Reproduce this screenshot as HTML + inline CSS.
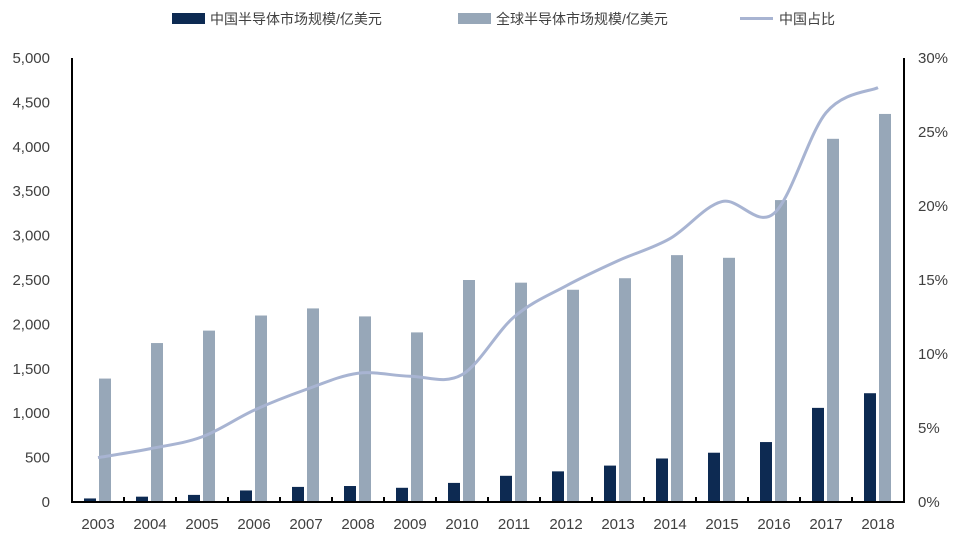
<!DOCTYPE html>
<html><head><meta charset="utf-8"><style>
body{margin:0;background:#fff;}
svg text{font-family:"Liberation Sans","Noto Sans CJK SC",sans-serif;fill:#404040;}
</style></head><body>
<svg width="957" height="543" xmlns="http://www.w3.org/2000/svg">
<g id="legend">
<g><rect x="172" y="13" width="33" height="11" fill="#0d2a52"/><text x="210" y="24" font-size="14">中国半导体市场规模/亿美元</text></g>
<g><rect x="458" y="13" width="33" height="11" fill="#97a7b8"/><text x="496" y="24" font-size="14">全球半导体市场规模/亿美元</text></g>
<g><line x1="740" y1="18.5" x2="773" y2="18.5" stroke="#a8b4d2" stroke-width="3"/><text x="779" y="24" font-size="14">中国占比</text></g>
</g>
<g id="plot"></g>
</svg>
<script>
const categories=["2003","2004","2005","2006","2007","2008","2009","2010","2011","2012","2013","2014","2015","2016","2017","2018"];
const chinaValues=[40,60,80,130,170,180,160,215,295,345,410,490,555,675,1060,1225];
const globalValues=[1390,1790,1930,2100,2180,2090,1910,2500,2470,2390,2520,2780,2750,3400,4090,4370];
const ratioValues=[3.0,3.6,4.4,6.2,7.6,8.7,8.5,8.6,12.5,14.6,16.3,17.8,20.3,19.5,26.3,28.0];
const leftTicks=[0,500,1000,1500,2000,2500,3000,3500,4000,4500,5000];
const rightTicks=[0,5,10,15,20,25,30];
const NS="http://www.w3.org/2000/svg";
const g=document.getElementById('plot');
const X0=72,X1=904,Y0=502,Y1=58;
const step=(X1-X0)/categories.length;
const xc=i=>X0+step*(i+0.5);
const yL=v=>Y0-(v/5000)*(Y0-Y1);
const yR=v=>Y0-(v/30)*(Y0-Y1);
function mk(t,a){const e=document.createElementNS(NS,t);for(const k in a)e.setAttribute(k,a[k]);g.appendChild(e);return e;}
leftTicks.forEach(v=>{const t=mk('text',{x:50,y:yL(v)+5,'font-size':15,'text-anchor':'end'});t.textContent=v.toLocaleString('en-US');

});
rightTicks.forEach(v=>{const t=mk('text',{x:918,y:yR(v)+5,'font-size':15});t.textContent=v+'%';

});
categories.forEach((c,i)=>{
const b1=mk('rect',{x:xc(i)-14,y:yL(chinaValues[i]),width:12,height:Y0-yL(chinaValues[i]),fill:'#0d2a52'});


const b2=mk('rect',{x:xc(i)+1,y:yL(globalValues[i]),width:12,height:Y0-yL(globalValues[i]),fill:'#97a7b8'});


const t=mk('text',{x:xc(i),y:529,'font-size':15,'text-anchor':'middle'});t.textContent=c;


});
const ax=mk('path',{d:`M${X0} ${Y1}V${Y0}H${X1}V${Y1}`,fill:'none',stroke:'#000','stroke-width':2});


for(let i=1;i<categories.length;i++){const tk=mk('line',{x1:X0+step*i,x2:X0+step*i,y1:Y0,y2:Y0-5,stroke:'#000','stroke-width':2});

}
const pts=ratioValues.map((v,i)=>[xc(i),yR(v)]);
let d=`M${pts[0][0]} ${pts[0][1]}`;
for(let i=0;i<pts.length-1;i++){const p0=pts[i-1]||pts[i],p1=pts[i],p2=pts[i+1],p3=pts[i+2]||p2;
d+=` C${p1[0]+(p2[0]-p0[0])/6} ${p1[1]+(p2[1]-p0[1])/6} ${p2[0]-(p3[0]-p1[0])/6} ${p2[1]-(p3[1]-p1[1])/6} ${p2[0]} ${p2[1]}`;}
const ln=mk('path',{d:d,fill:'none',stroke:'#a8b4d2','stroke-width':3});


</script>
</body></html>
